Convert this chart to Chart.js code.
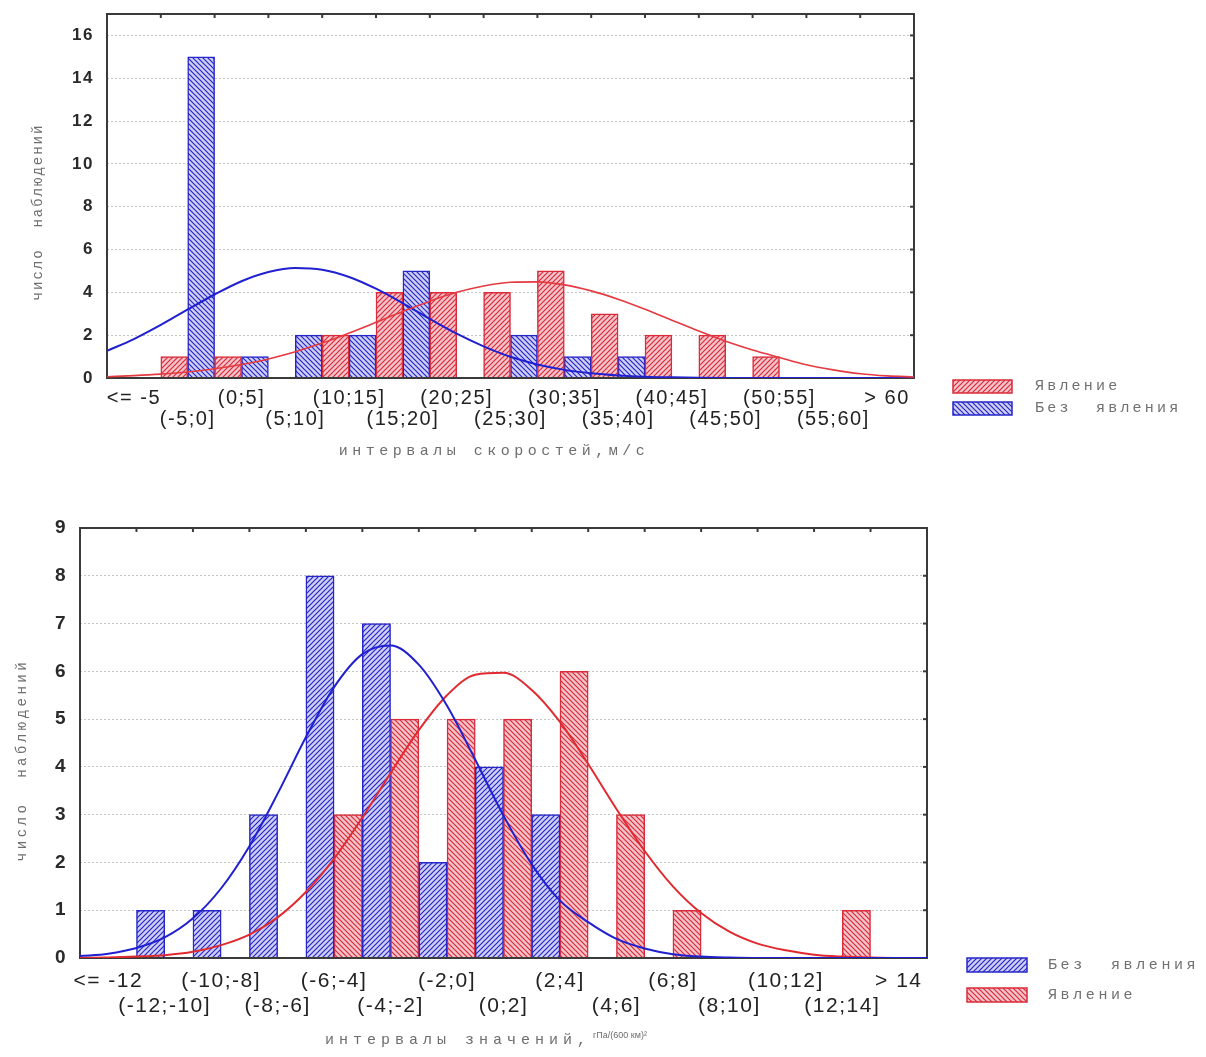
<!DOCTYPE html>
<html>
<head>
<meta charset="utf-8">
<script src="https://cdn.jsdelivr.net/npm/chart.js@4.4.1/dist/chart.umd.min.js"></script>
<style>
  html, body { margin: 0; padding: 0; background: #fff; }
  .box { position: absolute; left: 0; width: 1206px; }
  .box canvas { position: absolute; left: 0; top: 0; }
  #top { top: 0; height: 480px; }
  #bottom { top: 480px; height: 577px; }
</style>
</head>
<body>
<div class="box" id="top">
  <canvas id="speedBars" width="1206" height="480"></canvas>
  <canvas id="speedCurves" width="1206" height="480"></canvas>
</div>
<div class="box" id="bottom">
  <canvas id="valueBars" width="1206" height="577"></canvas>
  <canvas id="valueCurves" width="1206" height="577"></canvas>
</div>
<script>
// top chart: wind speed intervals
const speedLabels = ['<= -5', '(-5;0]', '(0;5]', '(5;10]', '(10;15]', '(15;20]', '(20;25]', '(25;30]',
    '(30;35]', '(35;40]', '(40;45]', '(45;50]', '(50;55]', '(55;60]', '> 60'];
const speedEvent = [0, 1, 1, 0, 2, 4, 4, 4, 5, 3, 2, 2, 1, 0, 0];
const speedNoEvent = [0, 15, 1, 2, 2, 5, 0, 2, 1, 1, 0, 0, 0, 0, 0];

// bottom chart: pressure gradient intervals
const valueLabels = ['<= -12', '(-12;-10]', '(-10;-8]', '(-8;-6]', '(-6;-4]', '(-4;-2]', '(-2;0]', '(0;2]',
    '(2;4]', '(4;6]', '(6;8]', '(8;10]', '(10;12]', '(12;14]', '> 14'];
const valueNoEvent = [0, 1, 1, 3, 8, 7, 2, 4, 3, 0, 0, 0, 0, 0, 0];
const valueEvent = [0, 0, 0, 0, 3, 5, 5, 5, 6, 3, 1, 0, 0, 1, 0];

// fitted curves, every half interval
const curveX = [0, 0.5, 1, 1.5, 2, 2.5, 3, 3.5, 4, 4.5, 5, 5.5, 6, 6.5, 7, 7.5,
    8, 8.5, 9, 9.5, 10, 10.5, 11, 11.5, 12, 12.5, 13, 13.5, 14, 14.5, 15];
const speedNoEventCurve = [1.27, 1.82, 2.48, 3.2, 3.9, 4.52, 4.95, 5.14, 5.06, 4.72, 4.17, 3.49, 2.76, 2.07, 1.48, 0.99,
    0.63, 0.38, 0.22, 0.12, 0.06, 0.03, 0.01, 0, 0, 0, 0, 0, 0, 0, 0];
const speedEventCurve = [0.06, 0.11, 0.18, 0.28, 0.43, 0.63, 0.89, 1.23, 1.63, 2.1, 2.6, 3.11, 3.59, 4.0, 4.3, 4.47,
    4.49, 4.35, 4.07, 3.68, 3.21, 2.7, 2.19, 1.72, 1.31, 0.96, 0.62, 0.38, 0.2, 0.1, 0.05];
const valueNoEventCurve = [0.04, 0.09, 0.21, 0.43, 0.83, 1.46, 2.34, 3.44, 4.62, 5.67, 6.36, 6.54, 6.14, 5.28, 4.15, 2.98,
    1.96, 1.2, 0.75, 0.4, 0.2, 0.08, 0.03, 0.01, 0, 0, 0, 0, 0, 0, 0];
const valueEventCurve = [0, 0.01, 0.03, 0.06, 0.13, 0.27, 0.49, 0.85, 1.38, 2.08, 2.94, 3.87, 4.77, 5.5, 5.93, 5.97,
    5.61, 4.94, 4.06, 3.12, 2.24, 1.5, 0.94, 0.55, 0.3, 0.16, 0.07, 0.03, 0.01, 0, 0];

const RED = '#d92b3a';
const BLUE = '#2626c8';
const MONO = '"Liberation Mono", "DejaVu Sans Mono", monospace';
const SANS = '"Liberation Sans", Arial, sans-serif';

function hatch(bg, fg, dir) {
    const s = 5;
    const c = document.createElement('canvas');
    c.width = c.height = s;
    const g = c.getContext('2d');
    g.fillStyle = bg;
    g.fillRect(0, 0, s, s);
    g.strokeStyle = fg;
    g.lineWidth = 1.2;
    g.beginPath();
    if (dir > 0) {
        g.moveTo(0, s); g.lineTo(s, 0);
        g.moveTo(-1, 1); g.lineTo(1, -1);
        g.moveTo(s - 1, s + 1); g.lineTo(s + 1, s - 1);
    } else {
        g.moveTo(0, 0); g.lineTo(s, s);
        g.moveTo(s - 1, -1); g.lineTo(s + 1, 1);
        g.moveTo(-1, s - 1); g.lineTo(1, s + 1);
    }
    g.stroke();
    return g.createPattern(c, 'repeat');
}

function spacedText(ctx, text, x, y, font, color, spacing, align) {
    ctx.font = font;
    ctx.fillStyle = color;
    ctx.letterSpacing = spacing + 'px';
    ctx.textAlign = align || 'left';
    ctx.textBaseline = 'middle';
    ctx.fillText(text, x, y);
    ctx.letterSpacing = '0px';
}

// frame, edge ticks, axis titles and legend
const decor = {
    id: 'decor',
    beforeDraw(chart, args, opts) {
        // tick labels in the original are set a little wide
        chart.ctx.letterSpacing = opts.tickSpacing + 'px';
    },
    beforeDatasetsDraw(chart) {
        chart.ctx.letterSpacing = '0px';
    },
    afterDraw(chart, args, opts) {
        const ctx = chart.ctx;
        const a = chart.chartArea;
        ctx.save();
        ctx.letterSpacing = '0px';
        ctx.strokeStyle = '#3a3a3a';
        ctx.lineWidth = 2;
        ctx.strokeRect(a.left, a.top, a.right - a.left, a.bottom - a.top);

        const y = chart.scales.y;
        y.ticks.forEach((t) => {
            const py = y.getPixelForValue(t.value);
            ctx.beginPath();
            ctx.moveTo(a.right - 4, py);
            ctx.lineTo(a.right, py);
            ctx.stroke();
        });
        const n = chart.data.labels.length;
        for (let i = 1; i < n; i++) {
            const px = a.left + (a.right - a.left) * i / n;
            ctx.beginPath();
            ctx.moveTo(px, a.top);
            ctx.lineTo(px, a.top + 4);
            ctx.stroke();
        }

        const xt = opts.xTitle;
        spacedText(ctx, xt.text, xt.x, xt.y, '15px ' + MONO, '#6e6e6e', xt.spacing, xt.align);
        if (xt.unit) {
            ctx.font = '15px ' + MONO;
            ctx.letterSpacing = xt.spacing + 'px';
            const w = ctx.measureText(xt.text).width;
            ctx.letterSpacing = '0px';
            spacedText(ctx, xt.unit, xt.x + w + 2, xt.y - 4, '9px ' + SANS, '#6e6e6e', 0, 'left');
        }

        const yt = opts.yTitle;
        ctx.save();
        ctx.translate(yt.x, yt.y);
        ctx.rotate(-Math.PI / 2);
        spacedText(ctx, yt.text, 0, 0, '14px ' + MONO, '#6e6e6e', yt.spacing, 'center');
        ctx.restore();

        opts.legend.forEach((item) => {
            ctx.fillStyle = item.fill;
            ctx.fillRect(item.x, item.y, item.w, item.h);
            ctx.strokeStyle = item.stroke;
            ctx.lineWidth = 1.5;
            ctx.strokeRect(item.x, item.y, item.w, item.h);
            spacedText(ctx, item.label, item.textX, item.y + item.h / 2, '15px ' + MONO, '#707070', item.spacing);
        });
        ctx.restore();
    },
};

function barSet(label, data, fill, color) {
    return {
        label: label,
        data: data,
        backgroundColor: fill,
        borderColor: color,
        borderWidth: 1.5,
        barPercentage: 1,
        categoryPercentage: 1,
    };
}

function curveSet(label, values, color, width) {
    return {
        label: label,
        data: curveX.map((x, i) => ({ x: x, y: values[i] })),
        borderColor: color,
        borderWidth: width,
        pointRadius: 0,
        fill: false,
        cubicInterpolationMode: 'monotone',
    };
}

function histogram(el, cfg) {
    return new Chart(el, {
        type: 'bar',
        data: { labels: cfg.labels, datasets: cfg.bars },
        options: {
            responsive: false,
            animation: false,
            layout: { padding: cfg.padding },
            plugins: {
                legend: { display: false },
                tooltip: { enabled: false },
                decor: cfg.decor,
            },
            scales: {
                x: {
                    type: 'category',
                    offset: true,
                    grid: { display: false },
                    border: { display: false },
                    afterFit: (s) => { s.height = cfg.xHeight; },
                    ticks: {
                        autoSkip: false,
                        maxRotation: 0,
                        minRotation: 0,
                        padding: cfg.xPad,
                        color: '#222',
                        font: { family: SANS, size: cfg.xFont, lineHeight: cfg.xLine },
                        callback: function (value, index) {
                            const text = this.getLabelForValue(value);
                            return index % 2 ? ['', text] : [text, ''];
                        },
                    },
                },
                y: {
                    min: 0,
                    max: cfg.yMax,
                    afterFit: (s) => {
                        s.width = cfg.yWidth;
                        s.paddingTop = 0;
                        s.paddingBottom = 0;
                    },
                    grid: { color: '#c4c4c4', lineWidth: 1, drawTicks: false },
                    border: { display: false, dash: [2, 2] },
                    ticks: {
                        stepSize: cfg.yStep,
                        includeBounds: false,
                        padding: 13,
                        color: '#2a2a2a',
                        font: { family: SANS, size: cfg.yFont, weight: 'bold' },
                    },
                },
            },
        },
        plugins: [decor],
    });
}

// fitted normal curves on a transparent canvas laid exactly over the plot area
function curves(el, cfg) {
    const p = cfg.padding;
    return new Chart(el, {
        type: 'line',
        data: { datasets: cfg.lines },
        options: {
            responsive: false,
            animation: false,
            layout: { padding: { left: p.left + cfg.yWidth, top: p.top, right: p.right, bottom: cfg.xHeight } },
            plugins: { legend: { display: false }, tooltip: { enabled: false } },
            scales: {
                x: { type: 'linear', min: 0, max: cfg.labels.length, display: false },
                y: { min: 0, max: cfg.yMax, display: false },
            },
        },
    });
}

const redTop = hatch('#f5c3ca', RED, 1);
const blueTop = hatch('#cfcff5', BLUE, -1);
const blueBottom = hatch('#cfcff5', BLUE, 1);
const redBottom = hatch('#f5c3ca', RED, -1);

const speedCfg = {
    labels: speedLabels,
    bars: [
        barSet('Явление', speedEvent, redTop, RED),
        barSet('Без явления', speedNoEvent, blueTop, BLUE),
    ],
    lines: [
        curveSet('Явление', speedEventCurve, '#e43a40', 1.6),
        curveSet('Без явления', speedNoEventCurve, '#2020d0', 2),
    ],
    padding: { left: 0, top: 14, right: 292, bottom: 0 },
    xHeight: 102,
    yWidth: 107,
    yMax: 17,
    yStep: 2,
    yFont: 17,
    xFont: 20,
    xLine: '21px',
    xPad: 2,
    decor: {
        tickSpacing: 1.5,
        xTitle: { text: 'интервалы скоростей,м/с', x: 494, y: 451, spacing: 4.5, align: 'center' },
        yTitle: { text: 'число  наблюдений', x: 38, y: 212, spacing: 2 },
        legend: [
            { label: 'Явление', fill: redTop, stroke: RED, x: 953, y: 380, w: 59, h: 13, textX: 1035, spacing: 3.2 },
            { label: 'Без  явления', fill: blueTop, stroke: BLUE, x: 953, y: 402, w: 59, h: 13, textX: 1035, spacing: 3.2 },
        ],
    },
};

const valueCfg = {
    labels: valueLabels,
    bars: [
        barSet('Без явления', valueNoEvent, blueBottom, BLUE),
        barSet('Явление', valueEvent, redBottom, RED),
    ],
    lines: [
        curveSet('Без явления', valueNoEventCurve, '#2020d0', 2),
        curveSet('Явление', valueEventCurve, '#e02a30', 2),
    ],
    padding: { left: 0, top: 48, right: 279, bottom: 0 },
    xHeight: 99,
    yWidth: 80,
    yMax: 9,
    yStep: 1,
    yFont: 19,
    xFont: 21,
    xLine: '25px',
    xPad: 3,
    decor: {
        tickSpacing: 1.5,
        xTitle: { text: 'интервалы значений,', unit: 'гПа/(600 км)²', x: 325, y: 560, spacing: 5, align: 'left' },
        yTitle: { text: 'число  наблюдений', x: 22, y: 280, spacing: 3.5 },
        legend: [
            { label: 'Без  явления', fill: blueBottom, stroke: BLUE, x: 967, y: 478, w: 60, h: 14, textX: 1048, spacing: 3.6 },
            { label: 'Явление', fill: redBottom, stroke: RED, x: 967, y: 508, w: 60, h: 14, textX: 1048, spacing: 3.6 },
        ],
    },
};

histogram(document.getElementById('speedBars'), speedCfg);
curves(document.getElementById('speedCurves'), speedCfg);
histogram(document.getElementById('valueBars'), valueCfg);
curves(document.getElementById('valueCurves'), valueCfg);
</script>
</body>
</html>
